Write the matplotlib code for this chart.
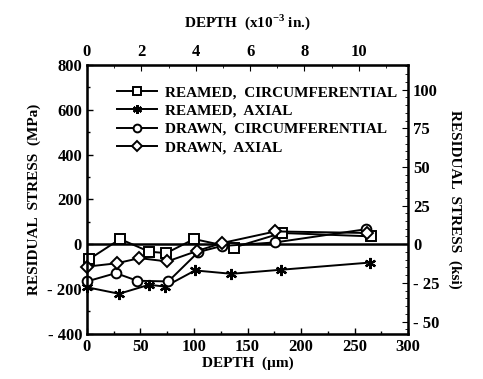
import matplotlib
matplotlib.use("Agg")
import matplotlib.pyplot as plt
from matplotlib.ticker import MultipleLocator

plt.rcParams['font.family'] = ['Liberation Serif', 'DejaVu Serif']
plt.rcParams['font.weight'] = 'bold'
plt.rcParams['axes.labelweight'] = 'bold'
plt.rcParams['mathtext.fontset'] = 'custom'
plt.rcParams['mathtext.rm'] = 'Liberation Serif:bold'
plt.rcParams['mathtext.bf'] = 'Liberation Serif:bold'

# Data (depth in um, stress in MPa)
rc_x = [2, 31, 58, 74, 100, 137, 182, 265]
rc_y = [-67, 23, -33, -40, 23, -15, 50, 35]
ra_x = [0, 30, 58, 73, 101, 135, 181, 264]
ra_y = [-192, -221, -181, -189, -117, -132, -114, -82]
dc_x = [0, 27, 47, 76, 104, 126, 176, 261]
dc_y = [-166, -129, -163, -166, -35, -8, 8, 67]
da_x = [0, 28, 49, 75, 103, 126, 176, 262]
da_y = [-100, -85, -62, -77, -30, 5, 57, 50]

labels = ["REAMED,  CIRCUMFERENTIAL", "REAMED,  AXIAL",
          "DRAWN,  CIRCUMFERENTIAL", "DRAWN,  AXIAL"]

yticks = [-400, -200, 0, 200, 400, 600, 800]
yticklabels = ["- 400", "- 200", "0", "200", "400", "600", "800"]
xticks = [0, 50, 100, 150, 200, 250, 300]
kticks = [-50, -25, 0, 25, 50, 75, 100]
kticklabels = ["- 50", "- 25", "0", "25", "50", "75", "100"]
iticks = [0, 2, 4, 6, 8, 10]

fig = plt.figure(figsize=(4.83, 3.79), dpi=100)
ax = fig.add_axes([0.180, 0.119, 0.665, 0.710])

lw = 1.4
ms = 7
ax.axhline(0, color='black', lw=1.8, zorder=1)
ax.plot(rc_x, rc_y, color='black', lw=lw, marker='s', ms=ms, mfc='white', mec='black', mew=1.4, label=labels[0], clip_on=False)
ax.plot(ra_x, ra_y, color='black', lw=lw, marker=(6, 2, 0), ms=ms+1, mec='black', mew=1.6, label=labels[1], clip_on=False)
ax.plot(dc_x, dc_y, color='black', lw=lw, marker='o', ms=ms, mfc='white', mec='black', mew=1.4, label=labels[2], clip_on=False)
ax.plot(da_x, da_y, color='black', lw=lw, marker='D', ms=ms-1, mfc='white', mec='black', mew=1.4, label=labels[3], clip_on=False)

ax.set_xlim(0, 300)
ax.set_ylim(-400, 800)
ax.set_xticks(xticks)
ax.set_yticks(yticks)
ax.set_yticklabels(yticklabels)
ax.xaxis.set_minor_locator(MultipleLocator(25))
ax.yaxis.set_minor_locator(MultipleLocator(100))
ax.tick_params(axis='both', which='both', direction='in', labelsize=12)
ax.tick_params(axis='both', which='major', length=4, width=1)
ax.tick_params(axis='both', which='minor', length=2, width=1)
for s in ax.spines.values():
    s.set_linewidth(1.8)
ax.set_xlabel("DEPTH  (\u00b5m)", fontsize=11, labelpad=1)
ax.set_ylabel("RESIDUAL  STRESS  (MPa)", fontsize=11, labelpad=5)

axr = ax.twinx()
axr.set_ylim(-400 / 6.895, 800 / 6.895)
axr.set_yticks(kticks)
axr.set_yticklabels(kticklabels)
axr.yaxis.set_minor_locator(MultipleLocator(5))
axr.tick_params(axis='y', which='both', direction='in', labelsize=12)
axr.tick_params(axis='y', which='major', length=4)
axr.tick_params(axis='y', which='minor', length=2)
axr.set_ylabel("RESIDUAL  STRESS  (ksi)", fontsize=11, rotation=-90, labelpad=16)

axt = ax.twiny()
axt.set_xlim(0, 300 / 25.4)
axt.set_xticks(iticks)
axt.xaxis.set_minor_locator(MultipleLocator(1))
axt.tick_params(axis='x', which='both', direction='in', labelsize=12)
axt.tick_params(axis='x', which='major', length=4)
axt.tick_params(axis='x', which='minor', length=2)
axt.set_xlabel("DEPTH  (x10$^{-3}$ in.)", fontsize=11, labelpad=12)

leg = ax.legend(loc='upper left', bbox_to_anchor=(0.075, 0.945), frameon=False,
                fontsize=11, handlelength=2.6, handletextpad=0.5, labelspacing=0.3,
                borderaxespad=0, markerscale=0.8)

fig.savefig("out.png", dpi=100)
